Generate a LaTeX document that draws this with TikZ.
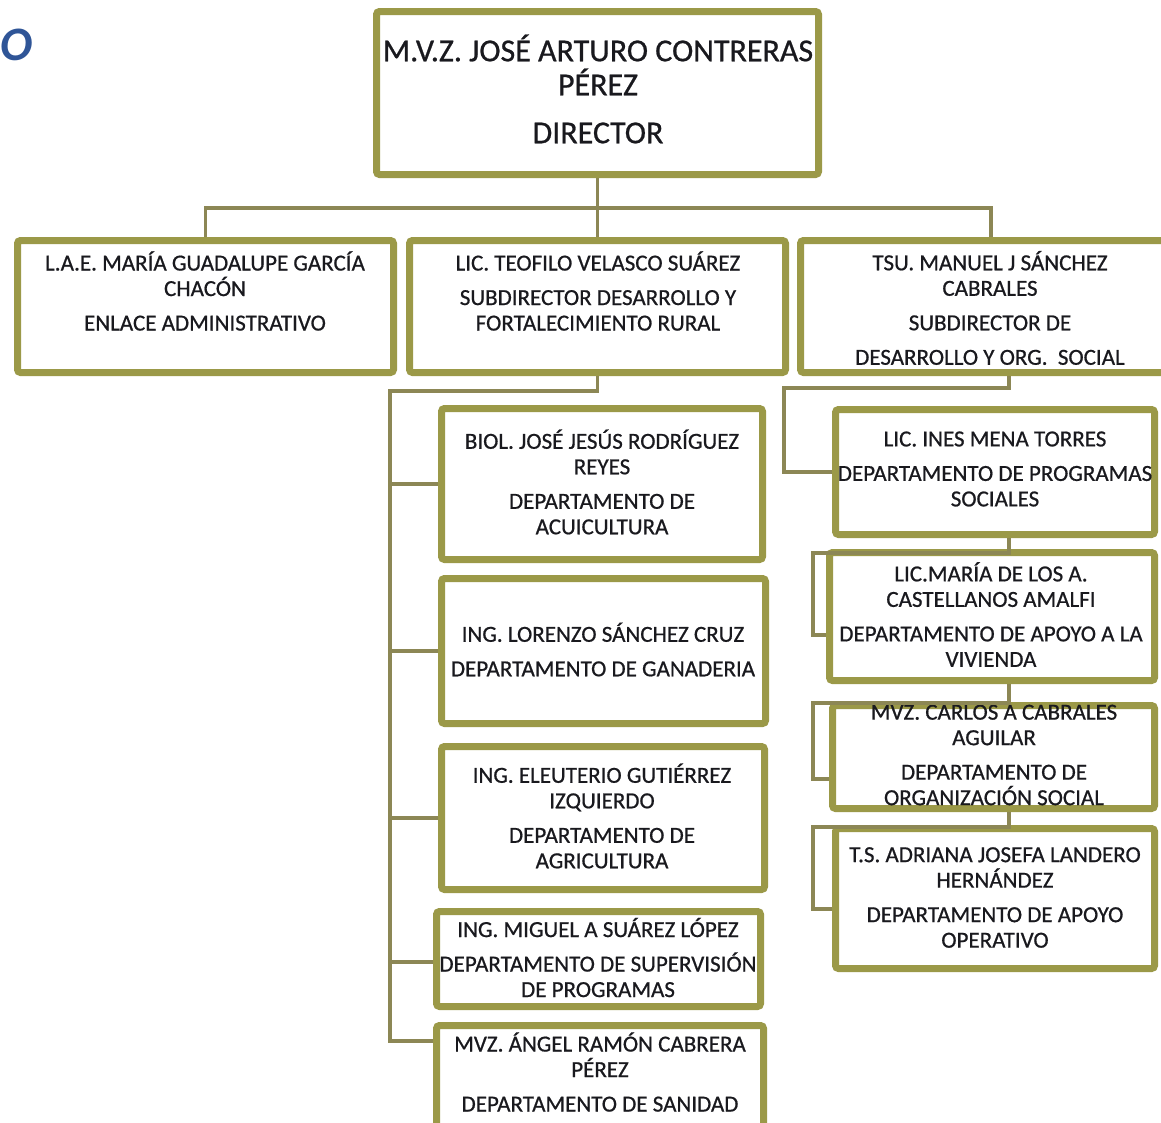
\documentclass[tikz,border=0pt]{standalone}
\usepackage{fontspec}
\setmainfont{Carlito}
\newfontfamily\boxfont{Carlito}[FakeBold=0.7]
\definecolor{boxc}{RGB}{155,153,72}
\definecolor{connc}{RGB}{140,135,85}
\definecolor{txtc}{RGB}{25,25,30}
\definecolor{bluec}{RGB}{47,85,151}
\begin{document}
\begin{tikzpicture}[x=1pt,y=-1pt,
  box/.style={draw=boxc, line width=7pt, fill=white, rounded corners=3pt, inner sep=0pt},
  conn/.style={draw=connc, line width=3.5pt},
  txt/.style={align=center, text=txtc, inner sep=0pt, font=\boxfont\fontsize{23}{25.5}\selectfont},
  bigtxt/.style={align=center, text=txtc, inner sep=0pt, font=\boxfont\fontsize{32}{34}\selectfont}]
\useasboundingbox (0,0) rectangle (1161,1122);
\clip (0,0) rectangle (1161,1122);

\node[text=bluec, font=\fontsize{48}{50}\selectfont\bfseries\itshape, inner sep=0pt, anchor=east] (otitle) at (33,45) {O};

% boxes
\node[box, minimum width=442, minimum height=163] (dir) at (597.5,93) {};
\node[box, minimum width=376, minimum height=132] (b1) at (205.5,306.5) {};
\node[box, minimum width=376, minimum height=132] (b2) at (597.5,306.5) {};
\node[box, minimum width=381, minimum height=132] (b3) at (991,306.5) {};
\node[box, minimum width=321, minimum height=151] (biol) at (602,484) {};
\node[box, minimum width=324, minimum height=145] (lor) at (603.5,651) {};
\node[box, minimum width=323, minimum height=143] (ele) at (603,818) {};
\node[box, minimum width=324, minimum height=95] (mig) at (598.5,959) {};
\node[box, minimum width=327, minimum height=106] (ang) at (600,1078.5) {};
\node[box, minimum width=319, minimum height=125] (ines) at (995,472) {};
\node[box, minimum width=325, minimum height=128] (mar) at (992,616.5) {};
\node[box, minimum width=322, minimum height=103] (car) at (993.5,757) {};
\node[box, minimum width=319, minimum height=140] (adr) at (995,898.5) {};

% texts
\node[bigtxt] (dir-t) at (598,89) {M.V.Z. JOSÉ ARTURO CONTRERAS\\PÉREZ\\[14pt]DIRECTOR};
\node[txt] (b1-t) at (205,291) {L.A.E. MARÍA GUADALUPE GARCÍA\\CHACÓN\\[9pt]ENLACE ADMINISTRATIVO};
\node[txt] (b2-t) at (598,291) {LIC. TEOFILO VELASCO SUÁREZ\\[9pt]SUBDIRECTOR DESARROLLO Y\\FORTALECIMIENTO RURAL};
\node[txt] (b3-t) at (990,308) {TSU. MANUEL J SÁNCHEZ\\CABRALES\\[9pt]SUBDIRECTOR DE\\[9pt]DESARROLLO Y ORG.\ \ SOCIAL};
\node[txt] (biol-t) at (602,482) {BIOL. JOSÉ JESÚS RODRÍGUEZ\\REYES\\[9pt]DEPARTAMENTO DE\\ACUICULTURA};
\node[txt] (lor-t) at (603,649.5) {ING. LORENZO SÁNCHEZ CRUZ\\[9pt]DEPARTAMENTO DE GANADERIA};
\node[txt] (ele-t) at (602,816) {ING. ELEUTERIO GUTIÉRREZ\\IZQUIERDO\\[9pt]DEPARTAMENTO DE\\AGRICULTURA};
\node[txt] (mig-t) at (598,957.5) {ING. MIGUEL A SUÁREZ LÓPEZ\\[9pt]DEPARTAMENTO DE SUPERVISIÓN\\DE PROGRAMAS};
\node[txt] (ang-t) at (600,1072) {MVZ. ÁNGEL RAMÓN CABRERA\\PÉREZ\\[9pt]DEPARTAMENTO DE SANIDAD};
\node[txt] (ines-t) at (995,469) {LIC. INES MENA TORRES\\[9pt]DEPARTAMENTO DE PROGRAMAS\\SOCIALES};
\node[txt] (mar-t) at (991,614.5) {LIC.MARÍA DE LOS A.\\CASTELLANOS AMALFI\\[9pt]DEPARTAMENTO DE APOYO A LA\\VIVIENDA};
\node[txt] (car-t) at (994,755) {MVZ. CARLOS A CABRALES\\AGUILAR\\[9pt]DEPARTAMENTO DE\\ORGANIZACIÓN SOCIAL};
\node[txt] (adr-t) at (995,897.5) {T.S. ADRIANA JOSEFA LANDERO\\HERNÁNDEZ\\[9pt]DEPARTAMENTO DE APOYO\\OPERATIVO};

% connectors: top level
\coordinate (bus) at (597.5,208);
\draw[conn] (dir.south) -- (bus);
\draw[conn] (b1.north) |- (bus) -| (b3.north);
\draw[conn] (bus) -- (b2.north);

% left branch
\coordinate (lbus) at (390,391);
\coordinate (lend) at (390,1041);
\draw[conn] (b2.south) |- (lbus) -- (lend) -- (lend -| ang.west);
\draw[conn] (lbus |- biol.west) -- (biol.west);
\draw[conn] (lbus |- lor.west) -- (lor.west);
\draw[conn] (lbus |- ele.west) -- (ele.west);
\draw[conn] (390,962) -- (mig.west |- 0,962);

% right branch
\coordinate (r0) at (1009,388);
\coordinate (r0l) at (784,388);
\draw[conn] (b3.south -| r0) -- (r0) -- (r0l) |- (ines.west);
\coordinate (r1) at (1009,553);
\coordinate (r1l) at (813,553);
\coordinate (m1) at (813,635);
\draw[conn] (ines.south -| r1) -- (r1) -- (r1l) -- (m1) -- (m1 -| mar.west);
\coordinate (r2) at (1009,703);
\coordinate (r2l) at (813,703);
\coordinate (m2) at (813,779);
\draw[conn] (mar.south -| r2) -- (r2) -- (r2l) -- (m2) -- (m2 -| car.west);
\coordinate (r3) at (1009,827);
\coordinate (r3l) at (813,827);
\coordinate (m3) at (813,909);
\draw[conn] (car.south -| r3) -- (r3) -- (r3l) -- (m3) -- (m3 -| adr.west);
\end{tikzpicture}
\end{document}
